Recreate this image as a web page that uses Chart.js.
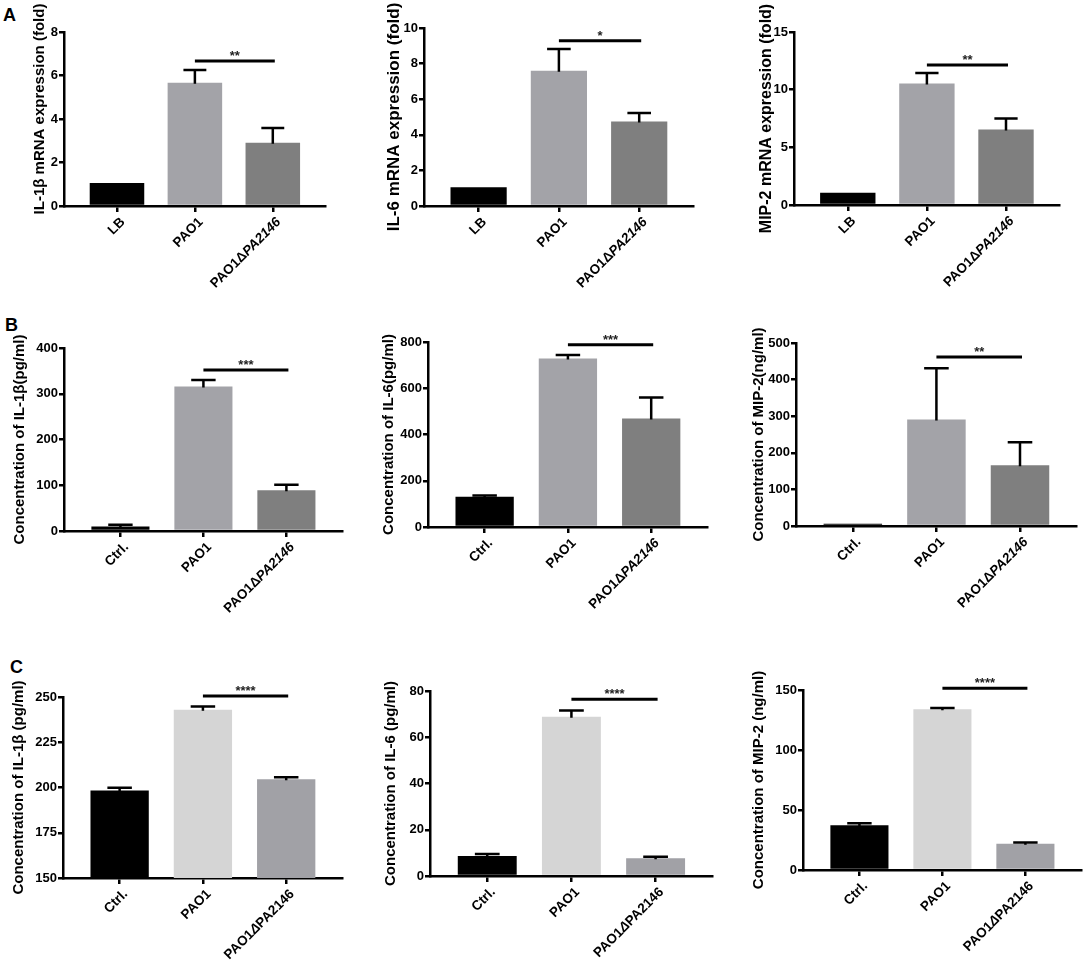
<!DOCTYPE html>
<html>
<head>
<meta charset="utf-8">
<script src="https://cdn.jsdelivr.net/npm/chart.js@4.4.0/dist/chart.umd.min.js"></script>
<style>
  html, body { margin: 0; padding: 0; background: #fff; }
  #fig { position: relative; width: 1083px; height: 968px; overflow: hidden; background: #fff;
         font-family: "Liberation Sans", Arial, Helvetica, sans-serif; }
  #fig canvas { position: absolute; }
  .letter { position: absolute; font-weight: bold; font-size: 18px; line-height: 18px; color: #000; }
</style>
</head>
<body>
<div id="fig">
  <div class="letter" style="left:3px;top:6px;">A</div>
  <div class="letter" style="left:5px;top:316px;">B</div>
  <div class="letter" style="left:10px;top:658px;">C</div>
</div>
<script>
// ---------------- DATA ----------------
const categoriesA = ['LB', 'PAO1', 'PAO1ΔPA2146'];
const categoriesB = ['Ctrl.', 'PAO1', 'PAO1ΔPA2146'];
const categoriesC = ['Ctrl.', 'PAO1', 'PAO1ΔPA2146'];

// A: mRNA expression (fold)
const il1bMrnaMean = [1.06, 5.67, 2.91];
const il1bMrnaErr  = [0, 0.58, 0.68];
const il6MrnaMean  = [1.05, 7.6, 4.75];
const il6MrnaErr   = [0, 1.22, 0.47];
const mip2MrnaMean = [1.07, 10.54, 6.54];
const mip2MrnaErr  = [0, 0.9, 0.96];

// B: concentrations
const il1bConcBMean = [10, 316, 89];
const il1bConcBErr  = [3.8, 14, 12];
const il6ConcBMean  = [131, 729, 469];
const il6ConcBErr   = [5, 15, 91];
const mip2ConcBMean = [6, 291, 166];
const mip2ConcBErr  = [0, 140, 63];

// C: concentrations
const il1bConcCMean = [198.3, 243.0, 204.5];
const il1bConcCErr  = [1.6, 1.7, 1.1];
const il6ConcCMean  = [8.7, 68.9, 7.7];
const il6ConcCErr   = [0.8, 2.7, 0.6];
const mip2ConcCMean = [37.2, 133.9, 21.9];
const mip2ConcCErr  = [1.7, 1.1, 1.1];

// y tick labels
const ticksA1 = [0, 2, 4, 6, 8];
const ticksA2 = [0, 2, 4, 6, 8, 10];
const ticksA3 = [0, 5, 10, 15];
const ticksB1 = [0, 100, 200, 300, 400];
const ticksB2 = [0, 200, 400, 600, 800];
const ticksB3 = [0, 100, 200, 300, 400, 500];
const ticksC1 = [150, 175, 200, 225, 250];
const ticksC2 = [0, 20, 40, 60, 80];
const ticksC3 = [0, 50, 100, 150];

// significance brackets (PAO1 vs PAO1ΔPA2146): level and stars
const sigLevels = [6.67, 9.29, 12.13, 352, 788, 462, 250.6, 76.4, 151.4];
const sigStars  = ['**', '*', '**', '***', '***', '**', '****', '****', '****'];

// axis titles
const yTitles = [
  'IL-1β mRNA expression (fold)',
  'IL-6 mRNA expression (fold)',
  'MIP-2 mRNA expression (fold)',
  'Concentration of IL-1β(pg/ml)',
  'Concentration of IL-6(pg/ml)',
  'Concentration of MIP-2(ng/ml)',
  'Concentration of IL-1β (pg/ml)',
  'Concentration of IL-6 (pg/ml)',
  'Concentration of MIP-2 (ng/ml)'
];

// ---------------- STYLE / LAYOUT ----------------
const FONT = '"Liberation Sans", Arial, Helvetica, sans-serif';
Chart.defaults.font.family = FONT;
Chart.defaults.color = '#000';
const colorsAB = ['#000000', '#a3a3a8', '#7f7f7f'];
const colorsC  = ['#000000', '#d5d5d5', '#a1a1a6'];
const XMIN = -0.68, XMAX = 2.67, PADTOP = 45, XH = 100;
const LABEL_SIZE = 13.5;

const panels = [
  { cats: categoriesA, mean: il1bMrnaMean, err: il1bMrnaErr, ticks: ticksA1, colors: colorsAB, italic: 'PA2146',
    col: 0,   colW: 360, L: 64,  T: 32,  B: 206, R: 325,  tx: 40,  tdy: -10, tsize: 15 },
  { cats: categoriesA, mean: il6MrnaMean,  err: il6MrnaErr,  ticks: ticksA2, colors: colorsAB, italic: 'PA2146',
    col: 360, colW: 360, L: 424, T: 28,  B: 206, R: 693,  tx: 394, tdy: 0,   tsize: 17 },
  { cats: categoriesA, mean: mip2MrnaMean, err: mip2MrnaErr, ticks: ticksA3, colors: colorsAB, italic: 'PA2146',
    col: 720, colW: 363, L: 794, T: 32,  B: 205, R: 1059, tx: 767, tdy: 0,   tsize: 16 },
  { cats: categoriesB, mean: il1bConcBMean, err: il1bConcBErr, ticks: ticksB1, colors: colorsAB, italic: 'PA2146',
    col: 0,   colW: 360, L: 64,  T: 348, B: 531, R: 342,  tx: 20,  tdy: 0,   tsize: 15 },
  { cats: categoriesB, mean: il6ConcBMean,  err: il6ConcBErr,  ticks: ticksB2, colors: colorsAB, italic: 'PA2146',
    col: 360, colW: 360, L: 428, T: 342, B: 527, R: 707,  tx: 389, tdy: 0,   tsize: 15 },
  { cats: categoriesB, mean: mip2ConcBMean, err: mip2ConcBErr, ticks: ticksB3, colors: colorsAB, italic: 'PA2146',
    col: 720, colW: 363, L: 796, T: 343, B: 526, R: 1076, tx: 759, tdy: 0,   tsize: 15 },
  { cats: categoriesC, mean: il1bConcCMean, err: il1bConcCErr, ticks: ticksC1, colors: colorsC, italic: 'Δ',
    col: 0,   colW: 360, L: 63,  T: 697, B: 878, R: 342,  tx: 19,  tdy: 0,   tsize: 15 },
  { cats: categoriesC, mean: il6ConcCMean,  err: il6ConcCErr,  ticks: ticksC2, colors: colorsC, italic: 'Δ',
    col: 360, colW: 360, L: 430, T: 691, B: 876, R: 712,  tx: 391, tdy: 0,   tsize: 15 },
  { cats: categoriesC, mean: mip2ConcCMean, err: mip2ConcCErr, ticks: ticksC3, colors: colorsC, italic: 'Δ',
    col: 720, colW: 363, L: 803, T: 690, B: 870, R: 1081, tx: 759, tdy: 0,   tsize: 15 }
];

function segments(label, italic) {
  const k = italic ? label.indexOf(italic) : -1;
  if (k < 0) return [[label, false]];
  return [[label.slice(0, k), false], [italic, true], [label.slice(k + italic.length), false]]
    .filter(s => s[0].length);
}

const fig = document.getElementById('fig');

panels.forEach((p, idx) => {
  const cv = document.createElement('canvas');
  const width = p.colW;
  const height = PADTOP + (p.B - p.T) + XH;
  cv.width = width; cv.height = height;
  cv.style.left = p.col + 'px';
  cv.style.top = (p.T - PADTOP) + 'px';
  cv.style.width = width + 'px';
  cv.style.height = height + 'px';
  fig.appendChild(cv);

  const overlay = {
    id: 'overlay' + idx,
    afterDatasetsDraw(chart) {
      const { ctx, scales: { x, y } } = chart;
      const meta = chart.getDatasetMeta(0);
      ctx.save();
      ctx.strokeStyle = '#000';
      ctx.lineCap = 'butt';
      // error bars (upper only)
      ctx.lineWidth = 2.5;
      meta.data.forEach((bar, i) => {
        const e = p.err[i];
        if (!e) return;
        const xc = bar.x;
        const y0 = y.getPixelForValue(p.mean[i]);
        const y1 = y.getPixelForValue(p.mean[i] + e);
        const half = bar.width * 0.21;
        ctx.beginPath();
        ctx.moveTo(xc, y0 + 1); ctx.lineTo(xc, y1);
        ctx.moveTo(xc - half, y1); ctx.lineTo(xc + half, y1);
        ctx.stroke();
      });
      // significance bar
      const sx1 = x.getPixelForValue(1);
      const sx2 = x.getPixelForValue(2) + 2;
      const sy = y.getPixelForValue(sigLevels[idx]);
      ctx.lineWidth = 3;
      ctx.beginPath(); ctx.moveTo(sx1, sy); ctx.lineTo(sx2, sy); ctx.stroke();
      ctx.fillStyle = '#222';
      ctx.font = 'bold 13px ' + FONT;
      ctx.textAlign = 'center';
      ctx.textBaseline = 'alphabetic';
      ctx.fillText(sigStars[idx], (sx1 + sx2) / 2, sy - 1);
      ctx.restore();
    },
    afterDraw(chart) {
      const { ctx, chartArea, scales: { x } } = chart;
      ctx.save();
      ctx.fillStyle = '#000';
      // rotated category labels
      p.cats.forEach((lab, i) => {
        const tx = x.getPixelForValue(i);
        const segs = segments(lab, p.italic);
        let total = 0;
        const widths = segs.map(s => {
          ctx.font = (s[1] ? 'italic bold ' : 'bold ') + LABEL_SIZE + 'px ' + FONT;
          const w = ctx.measureText(s[0]).width; total += w; return w;
        });
        ctx.save();
        ctx.translate(tx + 6, chartArea.bottom + 14);
        ctx.rotate(-Math.PI / 4);
        ctx.textAlign = 'left';
        ctx.textBaseline = 'middle';
        let cx = -total;
        segs.forEach((s, k) => {
          ctx.font = (s[1] ? 'italic bold ' : 'bold ') + LABEL_SIZE + 'px ' + FONT;
          ctx.fillText(s[0], cx, 0);
          cx += widths[k];
        });
        ctx.restore();
      });
      // y-axis title
      ctx.save();
      ctx.translate(p.tx - p.col, (chartArea.top + chartArea.bottom) / 2 + p.tdy);
      ctx.rotate(-Math.PI / 2);
      ctx.font = 'bold ' + p.tsize + 'px ' + FONT;
      ctx.textAlign = 'center';
      ctx.textBaseline = 'middle';
      ctx.fillText(yTitles[idx], 0, 0);
      ctx.restore();
      ctx.restore();
    }
  };

  const axisBorder = { display: true, color: '#000', width: 2.5 };
  new Chart(cv, {
    type: 'bar',
    data: {
      datasets: [{
        data: p.mean.map((v, i) => ({ x: i, y: v })),
        backgroundColor: p.colors,
        borderWidth: 0,
        barPercentage: 0.7,
        categoryPercentage: 1
      }]
    },
    options: {
      responsive: false,
      animation: false,
      layout: { padding: { left: 0, top: PADTOP, right: p.col + p.colW - p.R, bottom: 0 } },
      plugins: { legend: { display: false }, tooltip: { enabled: false } },
      scales: {
        x: {
          type: 'linear',
          min: XMIN, max: XMAX,
          offset: false,
          afterBuildTicks: s => { s.ticks = p.cats.map((c, i) => ({ value: i })); },
          afterFit: s => { s.height = XH; },
          ticks: { display: false },
          grid: { offset: false, drawOnChartArea: false, drawTicks: true, tickLength: 6, color: '#000', lineWidth: 2.5 },
          border: axisBorder
        },
        y: {
          type: 'linear',
          min: p.ticks[0], max: p.ticks[p.ticks.length - 1],
          afterBuildTicks: s => { s.ticks = p.ticks.map(v => ({ value: v })); },
          afterFit: s => { s.width = p.L - p.col; },
          ticks: { color: '#000', padding: 1, font: { family: FONT, size: 13, weight: 'bold' } },
          grid: { drawOnChartArea: false, drawTicks: true, tickLength: 5, color: '#000', lineWidth: 2.5 },
          border: axisBorder
        }
      }
    },
    plugins: [overlay]
  });
});
</script>
</body>
</html>
